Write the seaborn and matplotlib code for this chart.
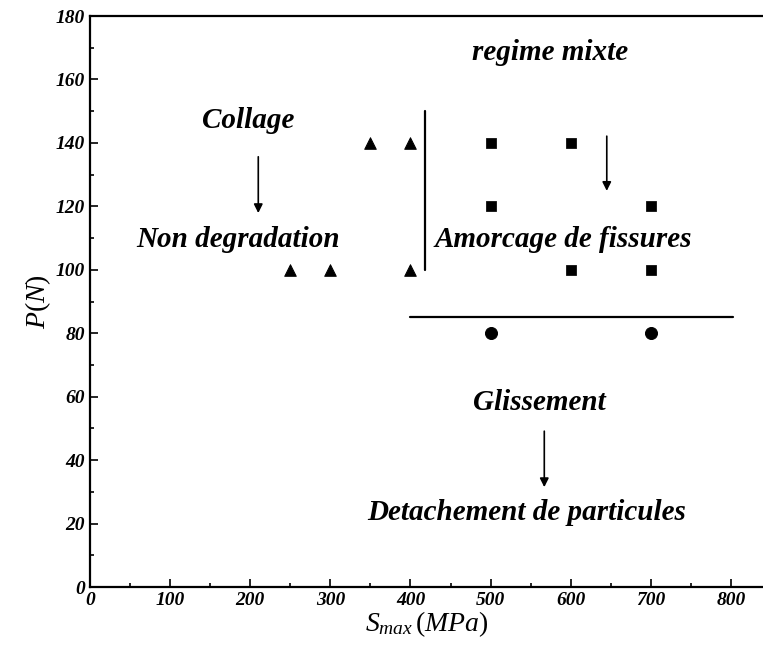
import pandas as pd
import matplotlib
matplotlib.use('Agg')
import matplotlib.pyplot as plt
from matplotlib.ticker import MultipleLocator
import seaborn as sns

# donnees
tri_x = [250, 300, 350, 400, 400]
tri_y = [100, 100, 140, 140, 100]
sq_x = [500, 600, 500, 700, 600, 700]
sq_y = [140, 140, 120, 120, 100, 100]
circ_x = [500, 700]
circ_y = [80, 80]

sns.set_style('ticks', {'axes.edgecolor': 'black', 'text.color': 'black',
                        'axes.labelcolor': 'black', 'xtick.color': 'black',
                        'ytick.color': 'black'})
plt.rcParams['font.family'] = ['Liberation Serif', 'DejaVu Serif']
plt.rcParams['mathtext.fontset'] = 'custom'
plt.rcParams['mathtext.it'] = 'Liberation Serif:italic'
plt.rcParams['mathtext.rm'] = 'Liberation Serif'

df = pd.DataFrame({
    'S': tri_x + sq_x + circ_x,
    'P': tri_y + sq_y + circ_y,
    'regime': ['tri'] * len(tri_x) + ['sq'] * len(sq_x) + ['circ'] * len(circ_x),
})

fig = plt.figure(figsize=(7.63, 6.51), dpi=100)
ax = fig.add_axes([0.118, 0.0983, 0.882, 0.8771])

for reg, mk, sz in [('tri', '^', 70), ('sq', 's', 45), ('circ', 'o', 75)]:
    sub = df[df['regime'] == reg]
    sns.scatterplot(data=sub, x='S', y='P', marker=mk, s=sz, color='black',
                    edgecolor='black', ax=ax, legend=False)

# frontieres
ax.plot([418, 418], [100, 150], color='black', lw=1.6)
ax.plot([400, 802], [85, 85], color='black', lw=1.6)

txt = dict(fontsize=21, fontweight='bold', fontstyle='italic', ha='center',
           va='center', color='black')
ax.text(197, 147, 'Collage', **txt)
ax.text(185, 109.4, 'Non degradation', **txt)
ax.text(574, 168.6, 'regime mixte', **txt)
ax.text(591, 109.4, 'Amorcage de fissures', **txt)
ax.text(561, 58.3, 'Glissement', **txt)
ax.text(545, 23.6, 'Detachement de particules', **txt)

arr = dict(arrowstyle='-|>', color='black', lw=1.2, mutation_scale=13)
ax.annotate('', xy=(210, 117), xytext=(210, 136.5), arrowprops=arr)
ax.annotate('', xy=(645, 124), xytext=(645, 143), arrowprops=arr)
ax.annotate('', xy=(567, 30.6), xytext=(567, 50), arrowprops=arr)

ax.set_xlim(0, 840)
ax.set_ylim(0, 180)
ax.xaxis.set_major_locator(MultipleLocator(100))
ax.xaxis.set_minor_locator(MultipleLocator(50))
ax.yaxis.set_major_locator(MultipleLocator(20))
ax.yaxis.set_minor_locator(MultipleLocator(10))
ax.set_xticks(range(0, 801, 100))
ax.tick_params(which='both', direction='in', width=1.2, colors='black')
ax.tick_params(which='major', length=6)
ax.tick_params(which='minor', length=3)
for lab in ax.get_xticklabels() + ax.get_yticklabels():
    lab.set_fontsize(14)
    lab.set_fontweight('bold')
    lab.set_fontstyle('italic')

ax.spines['right'].set_visible(False)
for sp in ['left', 'bottom', 'top']:
    ax.spines[sp].set_linewidth(1.6)
    ax.spines[sp].set_color('black')

ax.set_xlabel(r'$S_{max}\,(MPa)$', fontsize=20, labelpad=0, color='black')
ax.set_ylabel(r'$P(N)$', fontsize=20, labelpad=2, color='black')

fig.savefig('out.png', dpi=100)
